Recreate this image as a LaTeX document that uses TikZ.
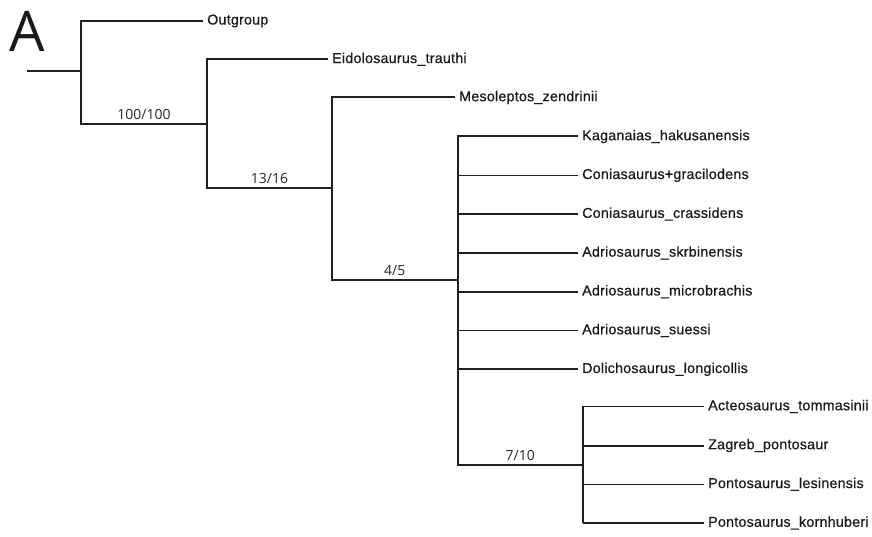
\documentclass[tikz,border=0pt]{standalone}
\usepackage{fontspec}
\setmainfont{Liberation Sans}[FakeBold=0.6]
\newfontfamily\leaffont{Liberation Sans}[FakeBold=0.6,LetterSpace=1.5]
\newfontfamily\numfont{Open Sans}
\begin{document}
\begin{tikzpicture}[x=1pt,y=-1pt,
  br/.style={line width=2pt, color=black!88, line join=miter},
  thin/.style={line width=1.4pt},
  leaf/.style={anchor=west, inner xsep=4pt, inner ysep=0pt, text=black!90, font=\leaffont\fontsize{14.3}{16}\selectfont},
  support/.style={anchor=base, yshift=4.5pt, inner sep=0pt, text=black!85, font=\numfont\fontsize{14}{16}\selectfont}]
\useasboundingbox (0,0) rectangle (872,537);
% panel letter
\node[font=\numfont\fontsize{56}{60}\selectfont, inner sep=0pt, text=black!90] (panel) at (27,31) {A};
% internal coordinates
\coordinate (r0) at (27,71);
\coordinate (n1) at (81,71);
\coordinate (n1t) at (81,21);
\coordinate (n1b) at (81,124);
\coordinate (n2t) at (207,59.3);
\coordinate (n2m) at (207,124);
\coordinate (n2b) at (207,188);
\coordinate (n3t) at (332,97.5);
\coordinate (n3m) at (332,188);
\coordinate (n3b) at (332,279.5);
\coordinate (n4t) at (457.5,136.5);
\coordinate (n4m) at (457.5,279.5);
\coordinate (n4b) at (457.5,465);
\coordinate (n5t) at (583,406.5);
\coordinate (n5m) at (583,465);
\coordinate (n5b) at (583,523);
% leaves
\node[leaf] (og) at (203,21) {Outgroup};
\node[leaf] (eid) at (328,59.3) {Eidolosaurus\_trauthi};
\node[leaf] (mes) at (455,97.5) {Mesoleptos\_zendrinii};
\node[leaf] (kag) at (578,136.5) {Kaganaias\_hakusanensis};
\node[leaf] (cgr) at (578,175.3) {Coniasaurus+gracilodens};
\node[leaf] (ccr) at (578,214.1) {Coniasaurus\_crassidens};
\node[leaf] (ask) at (578,252.9) {Adriosaurus\_skrbinensis};
\node[leaf] (ami) at (578,291.7) {Adriosaurus\_microbrachis};
\node[leaf] (asu) at (578,330.5) {Adriosaurus\_suessi};
\node[leaf] (dol) at (578,369.3) {Dolichosaurus\_longicollis};
\node[leaf] (act) at (704,406.5) {Acteosaurus\_tommasinii};
\node[leaf] (zag) at (704,445.5) {Zagreb\_pontosaur};
\node[leaf] (ples) at (704,484.3) {Pontosaurus\_lesinensis};
\node[leaf] (pkor) at (704,523) {Pontosaurus\_kornhuberi};
% branches
\draw[br] (r0) -- (n1);
\draw[br] (og.west) -- (n1t) -- (n1b) -- node[support]{100/100} (n2m);
\draw[br] (eid.west) -- (n2t) -- (n2b) -- node[support]{13/16} (n3m);
\draw[br] (mes.west) -- (n3t) -- (n3b) -- node[support]{4/5} (n4m);
\draw[br] (kag.west) -- (n4t) -- (n4b) -- node[support]{7/10} (n5m);
\foreach \l in {ccr,ami,dol}{
  \draw[br] (n4t |- \l.west) -- (\l.west);
}
\foreach \l in {cgr,ask,asu}{
  \draw[br,thin] (n4t |- \l.west) -- (\l.west);
}
\draw[br,thin] (act.west) -- (n5t) -- (n5b);
\draw[br] (n5b) -- (pkor.west);
\draw[br] (n5t |- zag.west) -- (zag.west);
\draw[br,thin] (n5t |- ples.west) -- (ples.west);
\end{tikzpicture}
\end{document}
